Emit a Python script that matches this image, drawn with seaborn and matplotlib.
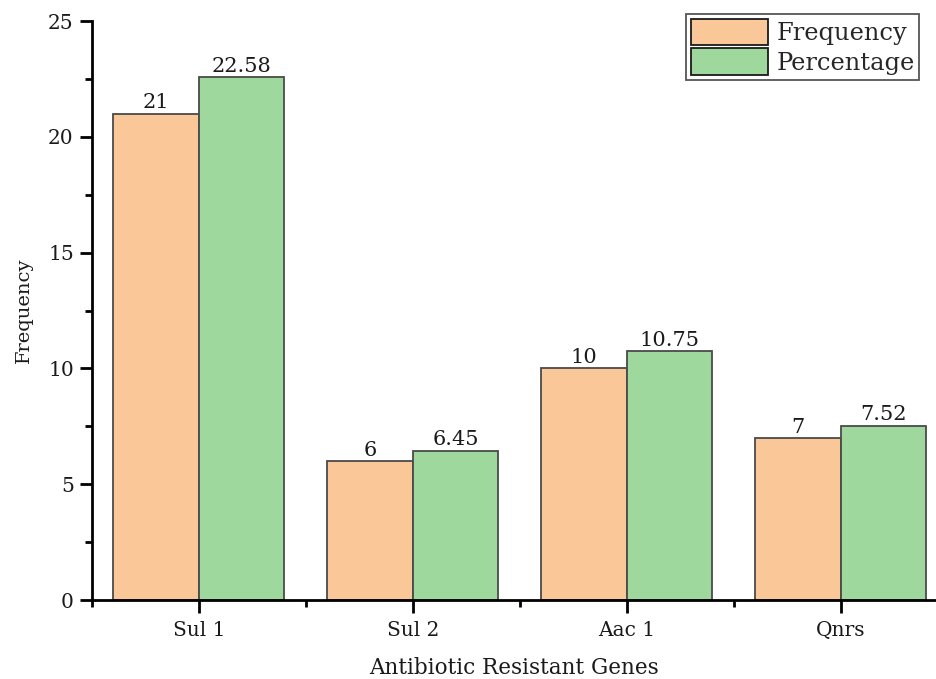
import matplotlib
matplotlib.use("Agg")
import matplotlib.pyplot as plt
from matplotlib.ticker import MultipleLocator
import seaborn as sns
import pandas as pd

genes = ["Sul 1", "Sul 2", "Aac 1", "Qnrs"]
frequency = [21, 6, 10, 7]
percentage = [22.58, 6.45, 10.75, 7.52]
series_names = ["Frequency", "Percentage"]
palette = ["#FAC898", "#9FD89C"]

df = pd.DataFrame({
    "gene": genes * 2,
    "value": frequency + percentage,
    "series": [series_names[0]] * len(genes) + [series_names[1]] * len(genes),
})

sns.set_theme(style="ticks")
plt.rcParams["font.family"] = ["DejaVu Serif"]

fig = plt.figure(figsize=(9.37, 6.79), dpi=100)
ax = fig.add_axes([0.098, 0.1163, 0.902, 0.8527])

sns.barplot(data=df, x="gene", y="value", hue="series", palette=palette,
            width=0.8, edgecolor="#4a4a4a", linewidth=1.3, saturation=1,
            ax=ax, legend=True)

labels = [[str(v) for v in frequency], [f"{v:.2f}" for v in percentage]]
for cont, labs in zip(ax.containers, labels):
    ax.bar_label(cont, labels=labs, padding=1, fontsize=15, color="#1a1a1a")

ax.set_ylim(0, 25)
ax.set_xlim(-0.5, 3.45)
ax.yaxis.set_major_locator(MultipleLocator(5))
ax.yaxis.set_minor_locator(MultipleLocator(2.5))
ax.set_xticks([-0.5, 0.5, 1.5, 2.5], minor=True)
ax.tick_params(axis="both", which="major", direction="out", length=9, width=2,
               labelsize=14.5, color="black", labelcolor="#1a1a1a")
ax.tick_params(axis="both", which="minor", direction="out", length=5, width=2,
               color="black")
ax.tick_params(axis="x", which="major", pad=6)
ax.tick_params(axis="y", which="major", pad=4)

for side in ["top", "right"]:
    ax.spines[side].set_visible(False)
for side in ["left", "bottom"]:
    ax.spines[side].set_linewidth(2)
    ax.spines[side].set_color("black")

ax.set_xlabel("Antibiotic Resistant Genes", fontsize=15.5, labelpad=12, color="#1a1a1a")
ax.set_ylabel("Frequency", fontsize=14, labelpad=11, color="#1a1a1a")

handles, lbls = ax.get_legend_handles_labels()
for h in handles:
    h.set_edgecolor("#1a1a1a")
leg = ax.legend(handles, lbls, loc="upper right", bbox_to_anchor=(0.985, 1.02),
                fontsize=17.4, frameon=True, fancybox=False, framealpha=1,
                edgecolor="#555555", handlelength=3.2, handleheight=1.3,
                handletextpad=0.35, borderpad=0.2, labelspacing=0.12,
                borderaxespad=0.2)
leg.get_frame().set_linewidth(1.3)

fig.savefig("out.png", dpi=100)
